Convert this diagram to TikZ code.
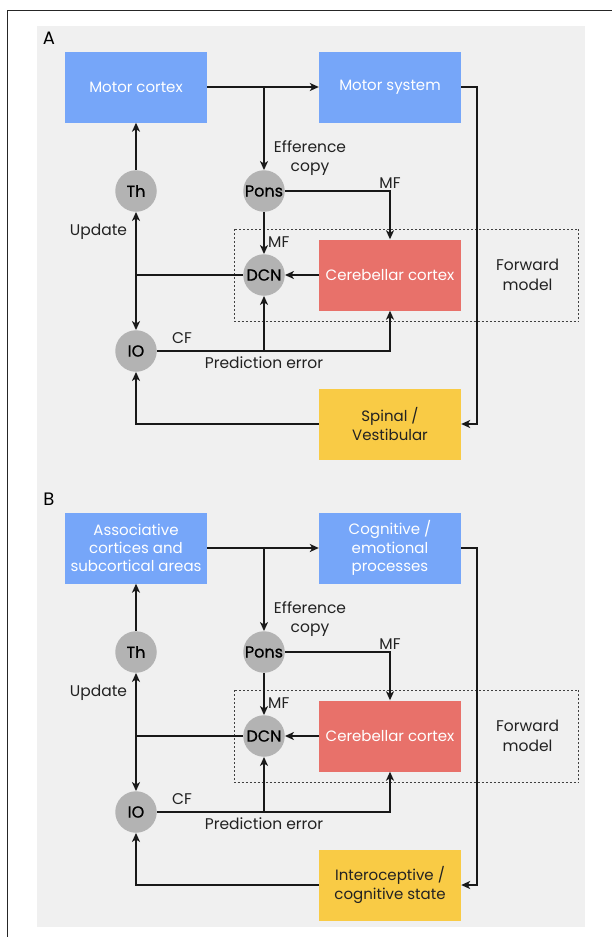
\documentclass[tikz,border=0pt]{standalone}
\usepackage{fontspec}
\setmainfont{Poppins}
\newfontfamily\nucfont[FakeBold=0.7]{Poppins}
\usetikzlibrary{arrows.meta}
\definecolor{bgray}{HTML}{F0F0F0}
\definecolor{bblue}{HTML}{76A6F9}
\definecolor{bred}{HTML}{E8716A}
\definecolor{byel}{HTML}{F9CB45}
\definecolor{cgray}{HTML}{B3B3B3}
\definecolor{txt}{HTML}{222222}
\tikzset{
  x=1pt, y=-1pt,
  box/.style={draw=none, minimum width=142pt, minimum height=71pt, inner sep=2pt, align=center, font=\fontsize{15}{18.2}\selectfont},
  bluebox/.style={box, fill=bblue, text=white},
  redbox/.style={box, fill=bred, text=white},
  yelbox/.style={box, fill=byel, text=txt},
  nuc/.style={circle, fill=cgray, minimum size=41.5pt, inner sep=0pt, font=\nucfont\fontsize{16}{17}\selectfont, text=black},
  lbl/.style={text=txt, align=center, inner sep=0pt, font=\fontsize{15.5}{19.4}\selectfont},
  conn/.style={line width=1.8pt, draw=black!90},
  arr/.style={conn, -{Stealth[length=9pt,width=8pt,inset=2.5pt]}},
  fwd/.style={draw=black!75, dash pattern=on 2pt off 2pt, line width=0.9pt},
  panellbl/.style={font=\fontsize{18}{18}\selectfont, text=black, inner sep=0pt}
}
\newcommand{\mypanel}[6]{%
  % #1 prefix, #2 y offset, #3 top-left text, #4 top-right text, #5 bottom text, #6 panel letter
  \begin{scope}[yshift=-#2pt]
  \node[panellbl] (#1lab) at (49,38) {#6};
  \node[bluebox] (#1mc) at (136,87) {#3};
  \node[bluebox] (#1ms) at (390,87) {#4};
  \node[redbox] (#1cc) at (390,275) {Cerebellar cortex};
  \node[yelbox] (#1sp) at (390,424) {#5};
  \node[nuc] (#1th) at (136,191) {Th};
  \node[nuc] (#1pons) at (264,191) {Pons};
  \node[nuc] (#1dcn) at (264,275) {DCN};
  \node[nuc] (#1io) at (136,351) {IO};
  \node[draw=none, minimum width=344pt, minimum height=92.4pt, inner sep=0pt] (#1fm) at (406.65,275.5) {};
  \draw[fwd] (#1fm.north west) rectangle (#1fm.south east);
  \coordinate (#1b1) at (264,87);
  \coordinate (#1j1) at (136,275);
  \coordinate (#1j2) at (264,351);
  \coordinate (#1c1) at (477,87);
  \draw[arr] (#1mc.east) -- (#1ms.west);
  \draw[arr] (#1b1) -- (#1pons.north);
  \draw[arr] (#1th.north) -- (#1mc.south);
  \draw[arr] (#1pons.south) -- (#1dcn.north);
  \draw[arr] (#1pons.east) -| (#1cc.north);
  \draw[arr] (#1cc.west) -- (#1dcn.east);
  \draw[conn] (#1dcn.west) -- (#1j1);
  \draw[arr] (#1j1) -- (#1th.south);
  \draw[arr] (#1j1) -- (#1io.north);
  \draw[arr] (#1io.east) -| (#1cc.south);
  \draw[arr] (#1j2) -- (#1dcn.south);
  \draw[arr] (#1ms.east) -- (#1c1) |- (#1sp.east);
  \draw[arr] (#1sp.west) -| (#1io.south);
  \node[lbl] (#1eff) at (310,158) {Efference\\copy};
  \node[lbl, anchor=west] (#1mf1) at (268,242) {MF};
  \node[lbl] (#1mf2) at (390,183) {MF};
  \node[lbl] (#1upd) at (98.5,232) {Update};
  \node[lbl] (#1cf) at (182,338) {CF};
  \node[lbl] (#1pe) at (264,363) {Prediction error};
  \node[lbl] (#1fml) at (527.6,275) {Forward\\model};
  \end{scope}
}
\begin{document}
\begin{tikzpicture}
\useasboundingbox (0,0) rectangle (611,937);
\fill[white] (0,0) rectangle (611,937);
\draw[line width=1.3pt, draw=black!85] (7.5,940) -- (7.5,10.8) -- (615,10.8);
\fill[bgray] (37,26) rectangle (585,927);
\mypanel{a}{0}{Motor cortex}{Motor system}{Spinal /\\Vestibular}{A}
\mypanel{b}{461}{Associative\\cortices and\\subcortical areas}{Cognitive /\\emotional\\processes}{Interoceptive /\\cognitive state}{B}
\end{tikzpicture}
\end{document}
